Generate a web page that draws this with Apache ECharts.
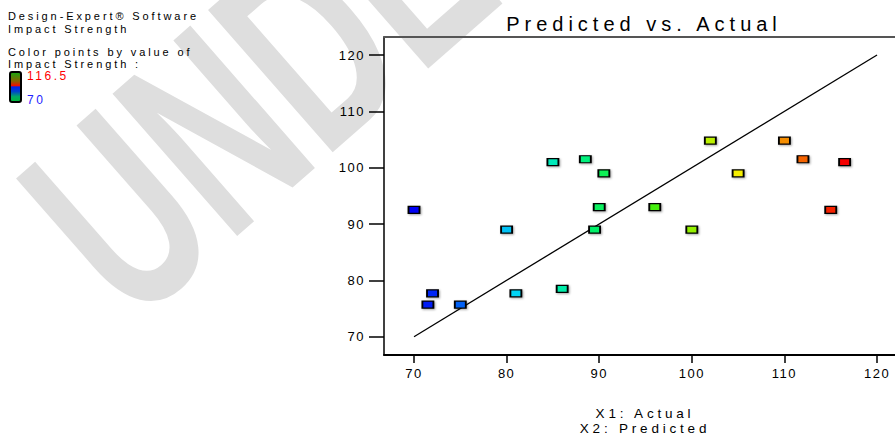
<!DOCTYPE html>
<html>
<head>
<meta charset="utf-8">
<script src="https://cdn.jsdelivr.net/npm/echarts@6/dist/echarts.min.js"></script>
<style>
html,body{margin:0;padding:0;background:#fff;}
#chart{width:895px;height:436px;}
#chart text[style*="13px"]{letter-spacing:1.5px;}
#chart text[style*="20px"]{letter-spacing:5px;}
#chart text[style*="11px"]{letter-spacing:2.9px;}
#chart text[style*="12px"]{letter-spacing:2.5px;}
#chart text[style*="13.5px"]{letter-spacing:3.8px;}
</style>
</head>
<body>
<div id="chart"></div>
<script>
// Data
const actual    = [70, 71.5, 72, 75, 80, 81, 85, 86, 88.5, 89.5, 90, 90.5, 96, 100, 102, 105, 110, 112, 115, 116.5];
const predicted = [92.5, 75.7, 77.7, 75.7, 89, 77.7, 101, 78.5, 101.5, 89, 93, 99, 93, 89, 104.8, 99, 104.8, 101.5, 92.5, 101];
const xTicks = [70, 80, 90, 100, 110, 120];
const yTicks = [70, 80, 90, 100, 110, 120];
const refLine = [[70, 70], [120, 120]];
const colorMin = 70, colorMax = 116.5;

const points = actual.map((a, i) => [a, predicted[i]]);
const FONT = '"Liberation Sans", Arial, sans-serif';

const chart = echarts.init(document.getElementById('chart'), null, {renderer: 'svg'});
chart.setOption({
  animation: false,
  backgroundColor: '#fff',
  grid: {left: 384, top: 37, right: 0, bottom: 81, containLabel: false},
  visualMap: {
    show: false, type: 'continuous', dimension: 0, seriesIndex: 1,
    min: colorMin, max: colorMax,
    inRange: {color: ['#0000f5', '#0070f5', '#00e0f5', '#00f090', '#10f020', '#80f000', '#f5f000', '#f58000', '#f50000']}
  },
  xAxis: [{
    type: 'value', position: 'bottom', min: 66.76, max: 121.94,
    axisLine: {show: true, onZero: false, lineStyle: {color: '#000', width: 2}},
    axisTick: {show: true, length: 8, lineStyle: {color: '#000', width: 1.5}, customValues: xTicks},
    axisLabel: {customValues: xTicks, fontSize: 13, color: '#000', fontFamily: FONT, margin: 12},
    splitLine: {show: false}
  }, {
    type: 'value', position: 'top', min: 66.76, max: 121.94,
    axisLine: {show: true, onZero: false, lineStyle: {color: '#555', width: 2}},
    axisTick: {show: false}, axisLabel: {show: false}, splitLine: {show: false}
  }],
  yAxis: {
    type: 'value', min: 66.75, max: 123.2,
    axisLine: {show: true, onZero: false, lineStyle: {color: '#000', width: 1.5}},
    axisTick: {show: true, length: 15, lineStyle: {color: '#000', width: 1.5}, customValues: yTicks},
    axisLabel: {customValues: yTicks, fontSize: 13, color: '#000', fontFamily: FONT, margin: 19},
    splitLine: {show: false}
  },
  series: [{
    type: 'line', data: refLine, symbol: 'none', silent: true, z: 2,
    lineStyle: {color: '#000', width: 1.3}
  }, {
    type: 'scatter', data: points, symbol: 'rect', symbolSize: [11, 7], z: 3,
    itemStyle: {borderColor: '#000', borderWidth: 1.5, opacity: 1,
      shadowColor: 'rgba(0,0,0,0.35)', shadowBlur: 2, shadowOffsetX: 1, shadowOffsetY: 1}
  }],
  graphic: [
    {type: 'text', x: 70, y: 256, rotation: 0.72, scaleX: 0.64, z: -10, silent: true,
      style: {text: 'UNDER', fill: '#dedede', font: 'bold 275px "Liberation Sans", Arial, sans-serif', textVerticalAlign: 'middle', textAlign: 'left'}},
    {type: 'text', x: 644, y: 24, style: {text: 'Predicted vs. Actual', fill: '#000', font: '20px ' + FONT, textAlign: 'center', textVerticalAlign: 'middle'}},
    {type: 'text', x: 8, y: 16.4, style: {text: 'Design-Expert® Software', fill: '#000', font: '11px ' + FONT, textAlign: 'left', textVerticalAlign: 'middle'}},
    {type: 'text', x: 8, y: 28.7, style: {text: 'Impact Strength', fill: '#000', font: '11px ' + FONT, textAlign: 'left', textVerticalAlign: 'middle'}},
    {type: 'text', x: 8, y: 52.4, style: {text: 'Color points by value of', fill: '#000', font: '11px ' + FONT, textAlign: 'left', textVerticalAlign: 'middle'}},
    {type: 'text', x: 8, y: 63.7, style: {text: 'Impact Strength :', fill: '#000', font: '11px ' + FONT, textAlign: 'left', textVerticalAlign: 'middle'}},
    {type: 'rect', shape: {x: 10, y: 72, width: 11, height: 30, r: 2},
      style: {stroke: '#000', lineWidth: 2,
        fill: new echarts.graphic.LinearGradient(0, 0, 0, 1, [
          {offset: 0, color: '#11aa11'}, {offset: 0.3, color: '#886600'}, {offset: 0.45, color: '#ee1100'},
          {offset: 0.5, color: '#0022ee'}, {offset: 0.65, color: '#0044cc'}, {offset: 0.82, color: '#00aa66'}, {offset: 1, color: '#00bb33'}])}},
    {type: 'text', x: 27, y: 75.8, style: {text: '116.5', fill: '#ff0000', font: '12px ' + FONT, textAlign: 'left', textVerticalAlign: 'middle'}},
    {type: 'text', x: 27, y: 99.5, style: {text: '70', fill: '#2222ff', font: '12px ' + FONT, textAlign: 'left', textVerticalAlign: 'middle'}},
    {type: 'text', x: 645, y: 413.5, style: {text: 'X1: Actual', fill: '#000', font: '13.5px ' + FONT, textAlign: 'center', textVerticalAlign: 'middle'}},
    {type: 'text', x: 645, y: 428.5, style: {text: 'X2: Predicted', fill: '#000', font: '13.5px ' + FONT, textAlign: 'center', textVerticalAlign: 'middle'}}
  ]
});
</script>
</body>
</html>
